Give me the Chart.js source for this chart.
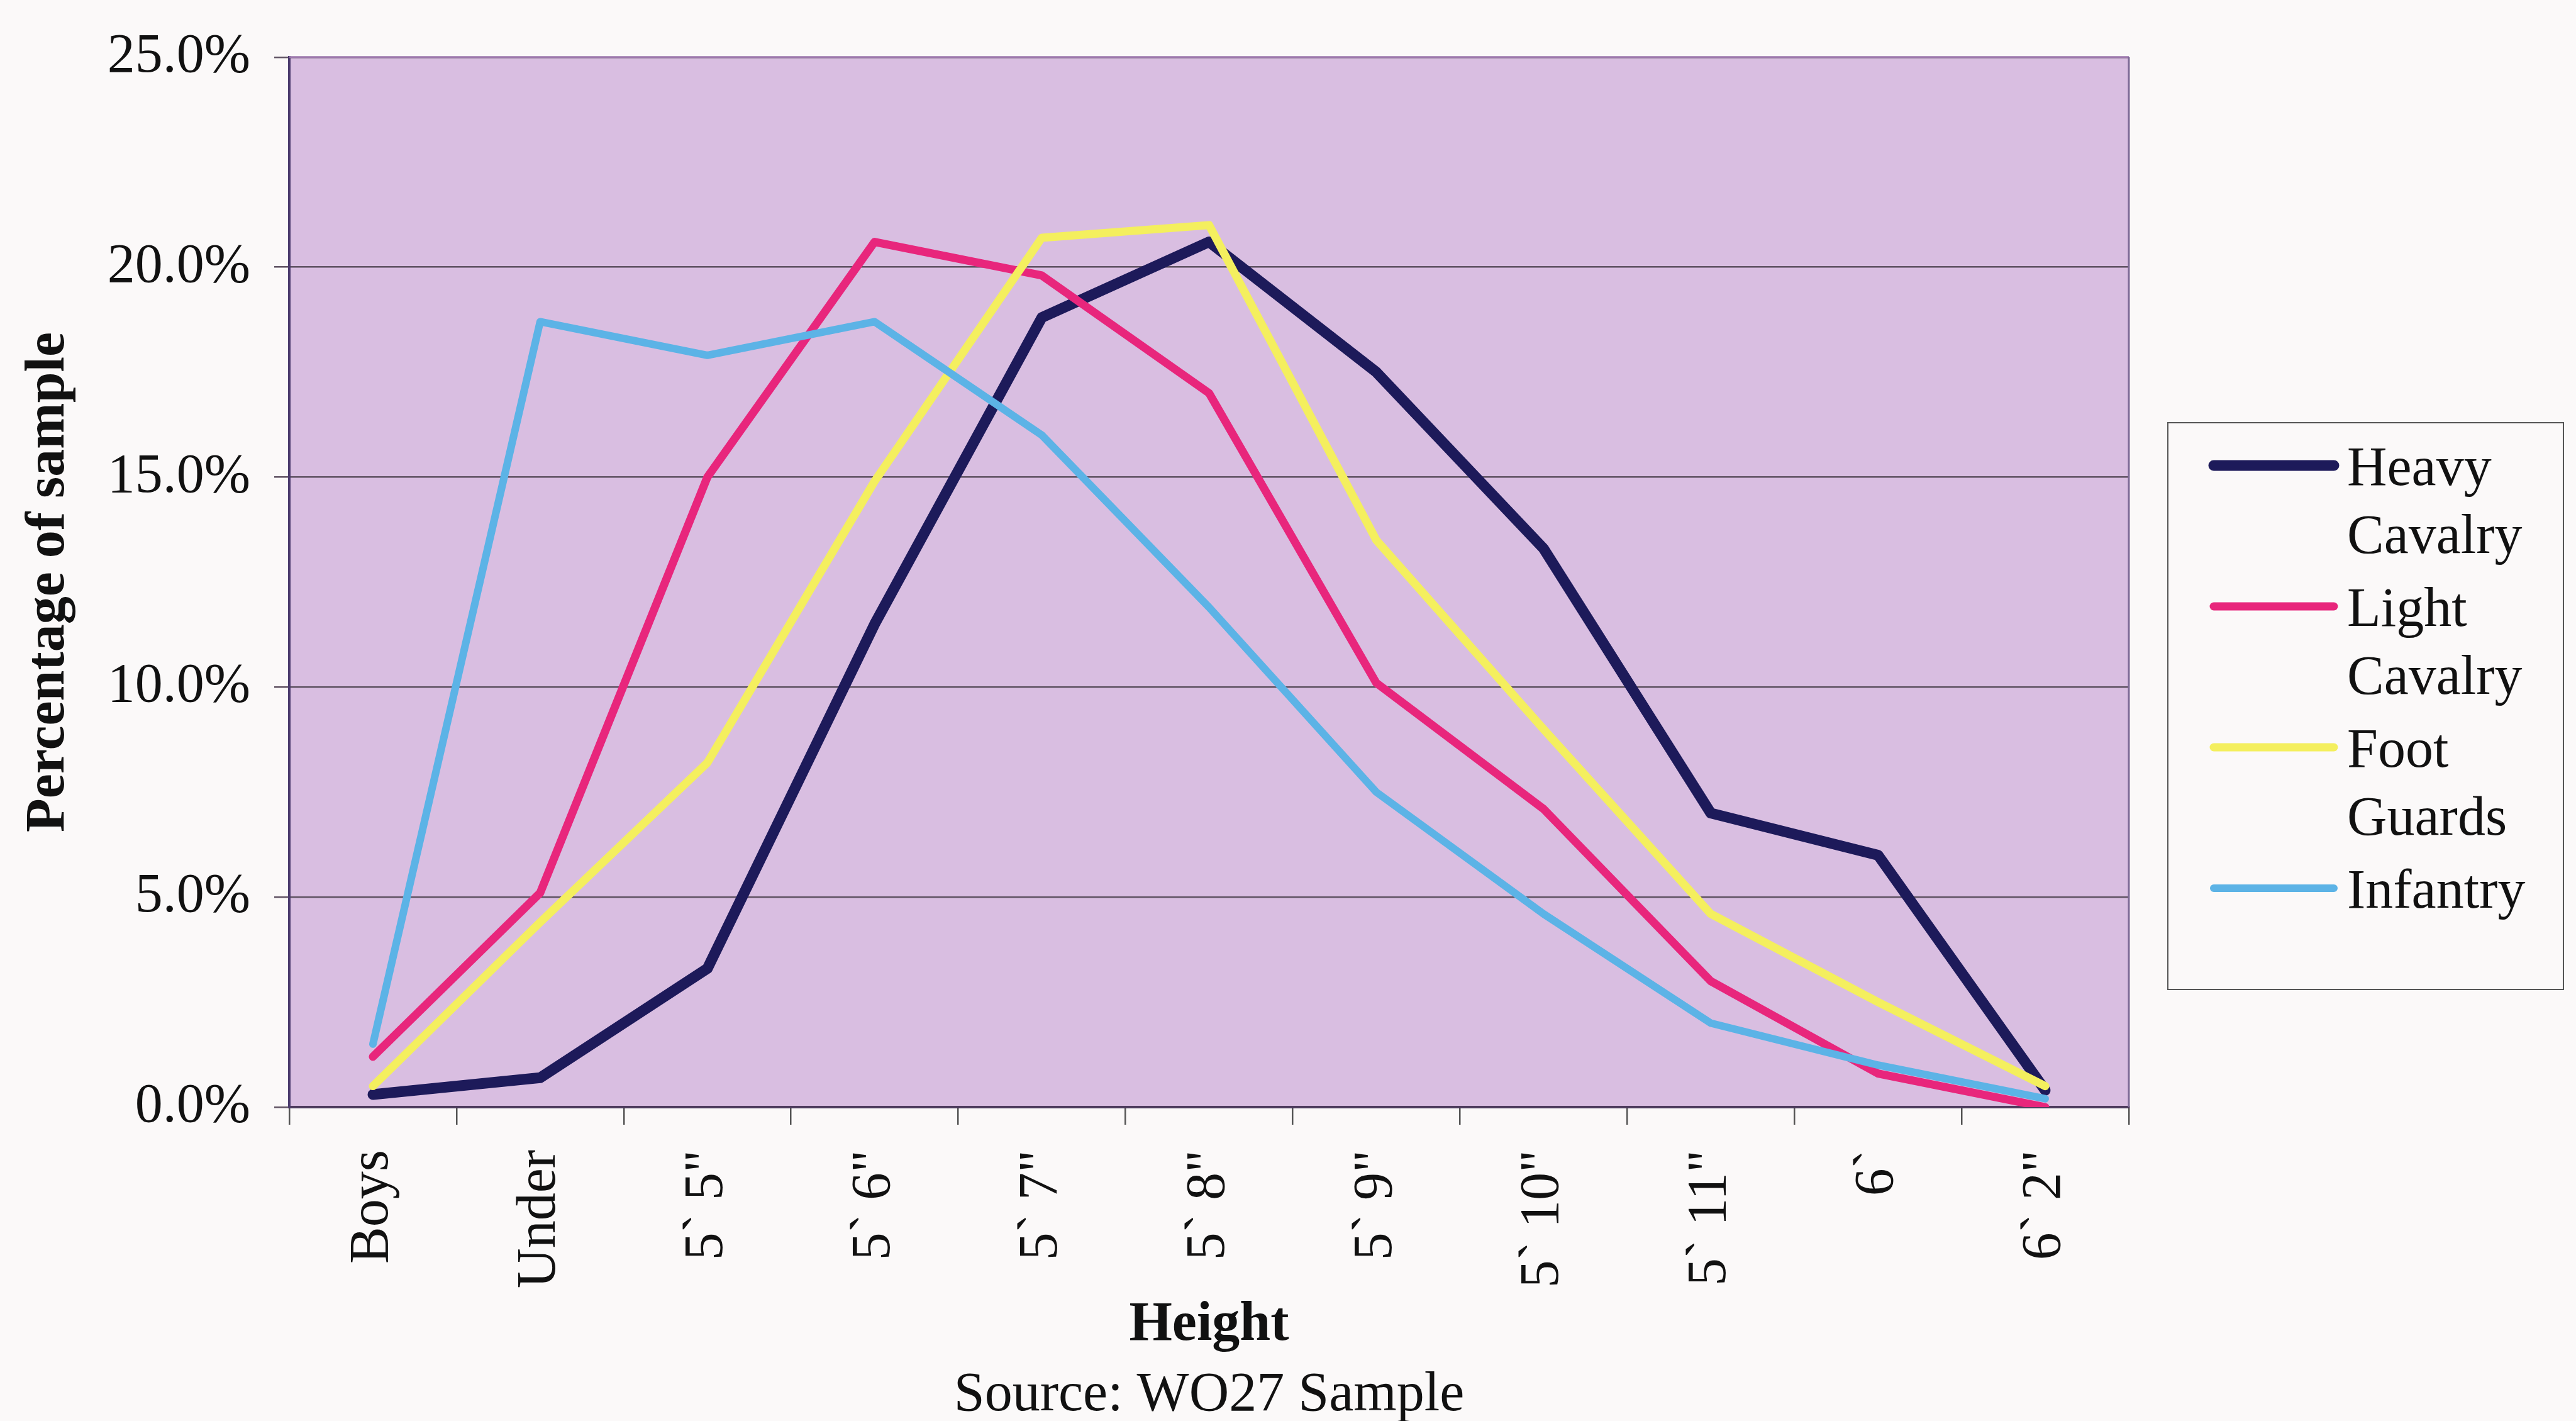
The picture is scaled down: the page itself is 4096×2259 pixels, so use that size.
<!DOCTYPE html>
<html>
<head>
<meta charset="utf-8">
<script src="https://cdn.jsdelivr.net/npm/chart.js@4.4.0/dist/chart.umd.min.js"></script>
<style>
html,body{margin:0;padding:0;background:#fbf9f9;}
</style>
</head>
<body>
<canvas id="myChart" width="4096" height="2259"></canvas>
<script>
/*data*/
const heights = ['Boys', 'Under', '5` 5"', '5` 6"', '5` 7"', '5` 8"', '5` 9"', '5` 10"', '5` 11"', '6`', '6` 2"'];
const heavyCavalry = [0.3, 0.7, 3.3, 11.5, 18.8, 20.6, 17.5, 13.3, 7.0, 6.0, 0.4];
const lightCavalry = [1.2, 5.1, 15.0, 20.6, 19.8, 17.0, 10.1, 7.1, 3.0, 0.8, 0.0];
const footGuards = [0.5, 4.4, 8.2, 14.9, 20.7, 21.0, 13.5, 9.0, 4.6, 2.5, 0.5];
const infantry = [1.5, 18.7, 17.9, 18.7, 16.0, 11.9, 7.5, 4.6, 2.0, 1.0, 0.2];
const seriesNames = [['Heavy', 'Cavalry'], ['Light', 'Cavalry'], ['Foot', 'Guards'], ['Infantry']];
const yTickStep = 5;
const yMax = 25;

const serif = 'Liberation Serif, Times New Roman, serif';
const colors = ['#1d1a5a', '#e8267c', '#f4ef5e', '#5cb3e6'];
const widths = [17, 13, 13, 12];

/*plot background + frame*/
const plotBack = {
  id: 'plotBack',
  beforeDraw(chart) {
    const {ctx, chartArea: a} = chart;
    ctx.save();
    ctx.fillStyle = '#fbf9f9';
    ctx.fillRect(0, 0, chart.width, chart.height);
    ctx.fillStyle = '#d9bee1';
    ctx.fillRect(a.left, a.top, a.right - a.left, a.bottom - a.top);
    ctx.restore();
  },
  beforeDatasetsDraw(chart) {
    const {ctx, chartArea: a} = chart;
    ctx.save();
    ctx.lineWidth = 3;
    ctx.strokeStyle = '#9c78ac';
    ctx.beginPath();
    ctx.moveTo(a.left, a.top);
    ctx.lineTo(a.right, a.top);
    ctx.stroke();
    ctx.strokeStyle = '#7d6a96';
    ctx.beginPath();
    ctx.moveTo(a.right, a.top);
    ctx.lineTo(a.right, a.bottom);
    ctx.stroke();
    ctx.restore();
  }
};

/*source line + legend*/
const extras = {
  id: 'extras',
  afterDraw(chart) {
    const {ctx, chartArea: a} = chart;
    ctx.save();
    ctx.fillStyle = '#111';
    ctx.font = '88px ' + serif;
    ctx.textAlign = 'center';
    ctx.textBaseline = 'middle';
    ctx.fillText('Source: WO27 Sample', (a.left + a.right) / 2, chart.height - 40);

    // legend box
    const bx = 3447, by = 672, bw = 629, bh = 901;
    ctx.fillStyle = '#fbf9f9';
    ctx.fillRect(bx, by, bw, bh);
    ctx.strokeStyle = '#555';
    ctx.lineWidth = 2;
    ctx.strokeRect(bx, by, bw, bh);
    ctx.textAlign = 'left';
    seriesNames.forEach((name, i) => {
      const y = by + 68 + i * 224;
      ctx.strokeStyle = colors[i];
      ctx.lineWidth = widths[i];
      ctx.lineCap = 'round';
      ctx.beginPath();
      ctx.moveTo(bx + 73, y);
      ctx.lineTo(bx + 264, y);
      ctx.stroke();
      ctx.fillStyle = '#111';
      name.forEach((line, j) => ctx.fillText(line, bx + 285, y + 8 + j * 108));
    });
    ctx.restore();
  }
};

const ctx = document.getElementById('myChart').getContext('2d');
const myChart = new Chart(ctx, {
  type: 'line',
  data: {
    labels: heights,
    datasets: [heavyCavalry, lightCavalry, footGuards, infantry].map((d, i) => ({
      label: seriesNames[i].join(' '),
      data: d,
      borderColor: colors[i],
      backgroundColor: colors[i],
      borderWidth: widths[i],
      pointRadius: 0,
      tension: 0,
      borderJoinStyle: 'round',
      borderCapStyle: 'round',
      order: 3 - i
    }))
  },
  options: {
    responsive: false,
    animation: false,
    events: [],
    layout: {padding: {left: 0, top: 79, right: 711, bottom: 99}},
    plugins: {legend: {display: false}, tooltip: {enabled: false}},
    scales: {
      x: {
        offset: true,
        grid: {offset: true, drawOnChartArea: false, drawTicks: true, tickLength: 28, color: '#555', lineWidth: 2.5},
        border: {display: true, color: '#4e3c5e', width: 4},
        ticks: {minRotation: 90, maxRotation: 90, autoSkip: false, padding: 40, color: '#111', font: {family: serif, size: 88}},
        title: {display: true, text: 'Height', color: '#111', font: {family: serif, size: 88, weight: 'bold'}, padding: {top: 0, bottom: 0}},
        afterFit: s => { s.height = 400; }
      },
      y: {
        min: 0,
        max: yMax,
        ticks: {stepSize: yTickStep, padding: 38, color: '#111', font: {family: serif, size: 88}, callback: v => v.toFixed(1) + '%'},
        grid: {color: '#5f5262', lineWidth: 2.5, tickLength: 24, drawTicks: true},
        border: {display: true, color: '#4b3b6e', width: 4},
        title: {display: true, text: 'Percentage of sample', color: '#111', font: {family: serif, size: 88, weight: 'bold'}, padding: {top: 25, bottom: 0}},
        afterFit: s => { s.width = 460; }
      }
    }
  },
  plugins: [plotBack, extras]
});
</script>
</body>
</html>
